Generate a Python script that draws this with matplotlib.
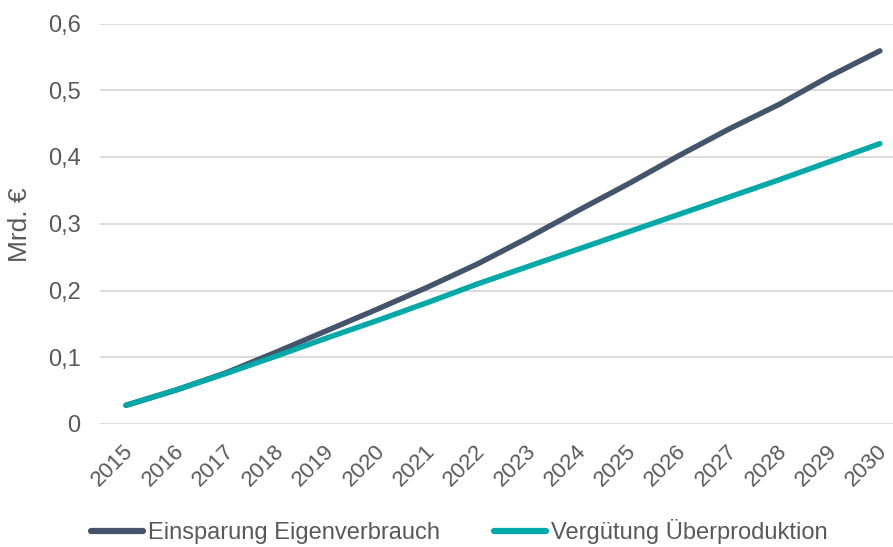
import matplotlib
matplotlib.use("Agg")
import matplotlib.pyplot as plt
from matplotlib.ticker import FuncFormatter
import matplotlib.transforms as mtrans

plt.rcParams['font.family'] = ['Liberation Sans', 'DejaVu Sans']

years = [str(y) for y in range(2015, 2031)]
eigenverbrauch = [0.028, 0.051, 0.077, 0.108, 0.140, 0.172, 0.205, 0.240,
                  0.279, 0.320, 0.360, 0.402, 0.442, 0.479, 0.521, 0.559]
ueberproduktion = [0.028, 0.051, 0.076, 0.102, 0.129, 0.155, 0.182, 0.210,
                   0.236, 0.262, 0.288, 0.314, 0.340, 0.366, 0.393, 0.420]
series_names = ["Einsparung Eigenverbrauch", "Vergütung Überproduktion"]
colors = ["#44546A", "#00A9A8"]
text_color = "#595959"

W, H = 893, 547
fig = plt.figure(figsize=(W / 100, H / 100), dpi=100)
left, right, top, bottom = 100, 893, 23.5, 424
ax = fig.add_axes([left / W, 1 - bottom / H, (right - left) / W, (bottom - top) / H])

x = list(range(len(years)))
ax.plot(x, eigenverbrauch, color=colors[0], lw=3.9, solid_capstyle='round', label=series_names[0])
ax.plot(x, ueberproduktion, color=colors[1], lw=3.9, solid_capstyle='round', label=series_names[1])

ax.set_ylim(0, 0.6)
ax.set_xlim(-0.517, 15.26)
ax.set_yticks([0, 0.1, 0.2, 0.3, 0.4, 0.5, 0.6])
ax.yaxis.set_major_formatter(FuncFormatter(lambda v, p: "0" if abs(v) < 1e-9 else f"{v:.1f}".replace(".", ",")))
ax.set_xticks(x)
ax.set_xticklabels(years, rotation=45, ha='right', rotation_mode='anchor')
ax.tick_params(axis='both', length=0, colors=text_color)
ax.tick_params(axis='y', pad=14, labelsize=17)
ax.tick_params(axis='x', pad=12, labelsize=16)
for lbl in ax.get_xticklabels():
    lbl.set_transform(lbl.get_transform() + mtrans.ScaledTranslation(-3 / 100, 0, fig.dpi_scale_trans))

ax.grid(axis='y', color='#D9D9D9', lw=1.3)
ax.set_axisbelow(True)
for s in ax.spines.values():
    s.set_visible(False)

fig.text(20 / W, 1 - 225 / H, "Mrd. €", rotation=90, ha='center', va='center',
         fontsize=19, color=text_color)

leg = fig.legend(loc='center', bbox_to_anchor=(459 / W, 1 - 532 / H), ncol=2, frameon=False,
                 fontsize=17, handlelength=2.2, handletextpad=0.2, columnspacing=2.3,
                 borderaxespad=0, borderpad=0)
for t in leg.get_texts():
    t.set_color(text_color)
for h in leg.legend_handles:
    h.set_linewidth(4.5)

fig.savefig("out.png", dpi=100)
